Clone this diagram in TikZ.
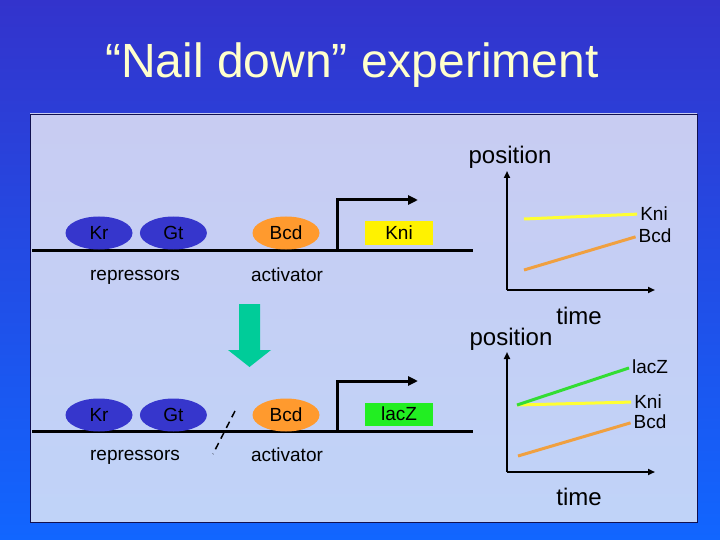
\documentclass[tikz,border=0pt]{standalone}
\usepackage{fontspec}
\setmainfont{Liberation Sans}
\usetikzlibrary{positioning, arrows.meta, shapes.geometric}
\definecolor{slidetop}{HTML}{3333CC}
\definecolor{slidebot}{HTML}{1166FF}
\definecolor{paneltop}{HTML}{C8CCF2}
\definecolor{panelbot}{HTML}{C0D3F8}
\definecolor{panelrim}{HTML}{101050}
\definecolor{repblue}{HTML}{3636CC}
\definecolor{actorange}{HTML}{FF9A2E}
\definecolor{traceorange}{HTML}{F0A040}
\definecolor{traceyellow}{HTML}{FFFF33}
\definecolor{tracegreen}{HTML}{33DD33}
\definecolor{boxgreen}{HTML}{22EE22}
\definecolor{arrowgreen}{HTML}{00CC99}
\definecolor{titleyellow}{HTML}{FFFFCC}
\tikzset{
  protein/.style={ellipse, minimum width=67pt, minimum height=33pt,
    inner sep=0pt, font=\fontsize{19}{19}\selectfont},
  repressor/.style={protein, fill=repblue},
  activator/.style={protein, fill=actorange},
  gene/.style={minimum width=68pt, minimum height=23pt, inner sep=0pt,
    font=\fontsize{19}{19}\selectfont},
  txt/.style={inner sep=0pt, font=\fontsize{19}{19}\selectfont},
  bigtxt/.style={inner sep=0pt, font=\fontsize{24}{24}\selectfont},
  dna/.style={line width=3pt},
  promoter/.style={line width=3pt, -{Triangle[length=10pt,width=9pt]}},
  axisline/.style={line width=2pt, -{Triangle[length=7pt,width=6pt]}},
  trace/.style={line width=3pt, shorten >=3pt}
}

\begin{document}
\begin{tikzpicture}[x=1pt,y=-1pt]
  % slide and panel
  \shade[top color=slidetop, bottom color=slidebot] (0,0) rectangle (720,540);
  \shade[top color=paneltop, bottom color=panelbot, draw=panelrim, line width=0.8pt]
    (30,114) rectangle (697,522);
  \node[anchor=base, text=titleyellow, font=\fontsize{48}{48}\selectfont] (title) at (352,78)
    {“Nail down” experiment};

  % wild type construct
  \coordinate (dna1w) at (32,250);
  \coordinate (dna1e) at (473,250);
  \draw[dna] (dna1w) -- (dna1e);
  \node[repressor] (kr1) at (99,233) {Kr};
  \node[repressor, right=7pt of kr1] (gt1) {Gt};
  \node[activator] (bcd1) at (286,233) {Bcd};
  \node[gene, fill=yellow] (kni1) at (399,233) {Kni};
  \coordinate (tss1) at (337,250);
  \coordinate (tx1) at (418,200);
  \draw[promoter] (tss1) |- (tx1);
  \node[txt] (rep1) at (135,277) {repressors};
  \node[txt] (act1) at (287,275) {activator};

  % top graph
  \coordinate (o1) at (507,290);
  \coordinate (ytop1) at (507,171);
  \coordinate (xend1) at (655,290);
  \draw[axisline] (o1) -- (ytop1);
  \draw[axisline] (o1) -- (xend1);
  \node[bigtxt] (pos1) at (510,157) {position};
  \node[bigtxt] (time1) at (579,316) {time};
  \node[txt] (knilab1) at (654,214) {Kni};
  \node[txt] (bcdlab1) at (655,236) {Bcd};
  \coordinate (knis1) at (524,219);
  \coordinate (bcds1) at (524,270);
  \draw[trace, traceyellow] (knis1) -- (knilab1.west);
  \draw[trace, traceorange] (bcds1) -- (bcdlab1.west);

  % arrow down
  \fill[arrowgreen] (239,304) -- (260,304) -- (260,350) -- (271,350) -- (249.5,367)
    -- (228,350) -- (239,350) -- cycle;

  % nailed down construct
  \coordinate (dna2w) at (32,431);
  \coordinate (dna2e) at (473,431);
  \draw[dna] (dna2w) -- (dna2e);
  \node[repressor] (kr2) at (99,415) {Kr};
  \node[repressor, right=7pt of kr2] (gt2) {Gt};
  \node[activator] (bcd2) at (286,415) {Bcd};
  \node[gene, fill=boxgreen] (lacz2) at (399,414) {lacZ};
  \coordinate (tss2) at (337,431);
  \coordinate (tx2) at (418,381);
  \draw[promoter] (tss2) |- (tx2);
  \coordinate (cuta) at (235,411);
  \coordinate (cutb) at (213,454);
  \draw[line width=1.5pt, dash pattern=on 7pt off 5pt] (cuta) -- (cutb);
  \node[txt] (rep2) at (135,457) {repressors};
  \node[txt] (act2) at (287,455) {activator};

  % bottom graph
  \coordinate (o2) at (507,472);
  \coordinate (ytop2) at (507,352);
  \coordinate (xend2) at (655,472);
  \draw[axisline] (o2) -- (ytop2);
  \draw[axisline] (o2) -- (xend2);
  \node[bigtxt] (pos2) at (511,339) {position};
  \node[bigtxt] (time2) at (579,497) {time};
  \node[txt] (laczlab2) at (650,367) {lacZ};
  \node[txt] (knilab2) at (648,402) {Kni};
  \node[txt] (bcdlab2) at (650,422) {Bcd};
  \coordinate (start2) at (517,405);
  \coordinate (bcds2) at (518,456);
  \draw[trace, traceyellow] (start2) -- (knilab2.west);
  \draw[trace, tracegreen] (start2) -- (laczlab2.west);
  \draw[trace, traceorange] (bcds2) -- (bcdlab2.west);
\end{tikzpicture}
\end{document}
